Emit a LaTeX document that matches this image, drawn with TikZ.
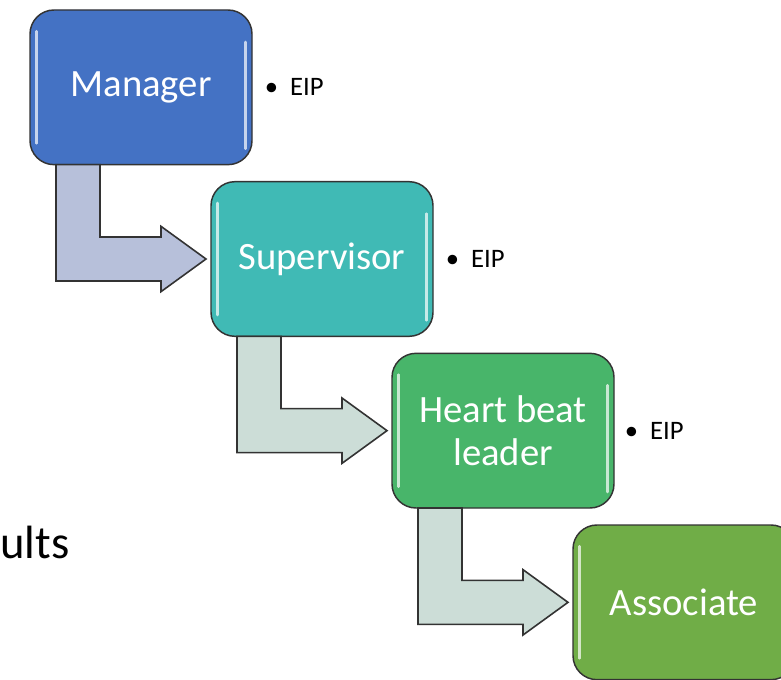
\documentclass[tikz,border=0pt]{standalone}
\usepackage{fontspec}
\setmainfont{Carlito}
\usetikzlibrary{positioning,calc}

\definecolor{mgrblue}{HTML}{4472C4}
\definecolor{supteal}{HTML}{40BAB5}
\definecolor{hbgreen}{HTML}{48B56A}
\definecolor{assgreen}{HTML}{70AD47}
\definecolor{arrowblue}{HTML}{B7C0DA}
\definecolor{arrowgreen}{HTML}{CCDDD7}
\definecolor{edgegrey}{HTML}{333333}

\begin{document}
\begin{tikzpicture}[
    role/.style={rectangle, rounded corners=18pt, draw=edgegrey, line width=1.1pt, text=white, align=center,
      minimum width=166.5pt, minimum height=116pt, inner sep=2pt, outer sep=0pt,
      font=\fontsize{29}{32}\selectfont,
      path picture={
        \draw[white, opacity=0.7, line width=2pt, line cap=round]
          ([xshift=5pt,yshift=-16pt]path picture bounding box.north west) -- ([xshift=5pt,yshift=16pt]path picture bounding box.south west);
        \draw[white, opacity=0.7, line width=2pt, line cap=round]
          ([xshift=-5pt,yshift=-24pt]path picture bounding box.north east) -- ([xshift=-5pt,yshift=12pt]path picture bounding box.south east);
      }},
    note/.style={anchor=west, inner sep=0pt, font=\fontsize{20}{24}\selectfont},
    bentarrow/.style={draw=edgegrey, line width=1.2pt, line join=miter},
    node distance=12.75pt and -30.75pt
  ]
    \useasboundingbox (0,0) rectangle (585.75pt,-510pt);
    \clip (0,0) rectangle (585.75pt,-510pt);

    \node[role, fill=mgrblue, anchor=north west] (manager) at (22.5pt,-7.5pt) {Manager};
    \node[role, fill=supteal, below right=of manager] (supervisor) {Supervisor};
    \node[role, fill=hbgreen, below right=of supervisor] (heart) {Heart beat\\leader};
    \node[role, fill=assgreen, below right=of heart] (associate) {Associate};

    \node[note, right=9.5pt of manager] (eipmgr) {\textbullet\hspace{0.45em}EIP};
    \node[note, right=9.5pt of supervisor] (eipsup) {\textbullet\hspace{0.45em}EIP};
    \node[note, right=8pt of heart] (eiphb) {\textbullet\hspace{0.45em}EIP};

    \node[anchor=base west, inner sep=0pt, font=\fontsize{35}{40}\selectfont, text=black] (results) at (0pt,-418.5pt) {ults};

    % bent arrows between the roles
    \foreach \from/\to/\col in {manager/supervisor/arrowblue, supervisor/heart/arrowgreen, heart/associate/arrowgreen}
      \draw[bentarrow, fill=\col] let \p1=(\from.south west), \p2=(\to.west) in
        (\x1+19.5pt,\y1) -- (\x1+19.5pt,\y2-16.5pt) -- (\x2-37.5pt,\y2-16.5pt) -- (\x2-37.5pt,\y2-24.5pt)
        -- (\x2-3.75pt,\y2) -- (\x2-37.5pt,\y2+24.5pt) -- (\x2-37.5pt,\y2+16.5pt)
        -- (\x1+52.5pt,\y2+16.5pt) -- (\x1+52.5pt,\y1) -- cycle;
  \end{tikzpicture}
\end{document}
